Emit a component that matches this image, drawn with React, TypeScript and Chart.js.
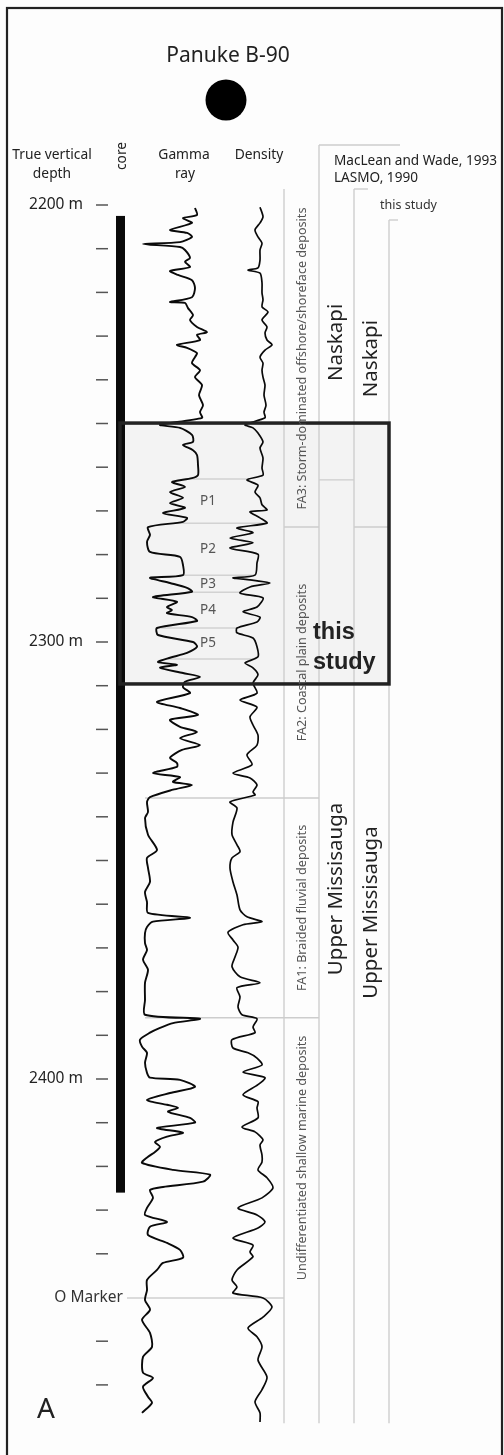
import React, { useEffect, useRef } from "react";
import { Chart, registerables } from "chart.js";

Chart.register(...registerables);

const CANVAS_W = 504;
const CANVAS_H = 1455;

// ---------------- DATA ----------------
const wellName = "Panuke B-90";

const depthTicks = [
  2200, 2210, 2220, 2230, 2240, 2250, 2260, 2270, 2280, 2290, 2300, 2310, 2320, 2330,
  2340, 2350, 2360, 2370, 2380, 2390, 2400, 2410, 2420, 2430, 2440, 2460, 2470,
];
const depthLabelDepths = [2200, 2300, 2400];
const depthLabels = ["2200 m", "2300 m", "2400 m"];

const oMarkerDepth = 2450.1;
const oMarkerLabel = "O Marker";
const coreTops = [2202.5];
const coreBases = [2426.0];
const studyTop = 2249.9;
const studyBase = 2309.6;
const logBaseDepth = 2478.8;

// facies associations
const faciesLabels = [
  "FA3: Storm-dominated offshore/shoreface deposits",
  "FA2: Coastal plain deposits",
  "FA1: Braided fluvial deposits",
  "Undifferentiated shallow marine deposits",
];
const faciesTops = [2196.6, 2273.7, 2335.7, 2386.0];
const faciesBases = [2273.7, 2335.7, 2386.0, 2450.1];

// formations (MacLean and Wade, 1993; LASMO, 1990)
const macleanLabels = ["Naskapi", "Upper Missisauga"];
const macleanTops = [2200.0, 2262.9];
const macleanBases = [2262.9, 2450.1];

// formations (this study)
const studyLabels = ["Naskapi", "Upper Missisauga"];
const studyTops = [2196.6, 2273.7];
const studyBases = [2273.7, 2450.1];

// parasequences
const parasequenceLabels = ["P1", "P2", "P3", "P4", "P5"];
const parasequenceTops = [2262.7, 2272.8, 2284.7, 2288.6, 2296.8];
const parasequenceBases = [2272.8, 2284.7, 2288.6, 2296.8, 2303.9];

// gamma ray log: [depth m, API]
const gammaLog: number[][] = [
  [2200.7, 75], [2202.3, 77], [2203.0, 63], [2204.1, 72], [2205.7, 50], [2206.4, 67],
  [2207.3, 72], [2208.5, 60], [2208.9, 23], [2209.6, 60], [2210.3, 65], [2212.1, 70],
  [2213.0, 65], [2214.2, 70], [2215.1, 50], [2216.0, 58], [2217.2, 72], [2219.0, 75],
  [2221.1, 72], [2222.2, 50], [2222.4, 65], [2223.6, 68], [2225.2, 73], [2226.3, 70],
  [2227.9, 77], [2229.1, 87], [2229.7, 77], [2230.9, 80], [2232.0, 57], [2232.7, 67],
  [2233.9, 77], [2234.8, 75], [2236.2, 72], [2237.8, 80], [2239.4, 75], [2241.2, 82],
  [2243.5, 79], [2245.8, 83], [2247.4, 80], [2248.7, 82], [2250.3, 40], [2251.0, 60],
  [2252.6, 72], [2254.2, 73], [2254.9, 63], [2256.1, 73], [2257.2, 77], [2259.5, 78],
  [2261.8, 78], [2262.5, 72], [2263.4, 52], [2264.5, 65], [2265.7, 50], [2267.0, 63],
  [2268.2, 50], [2269.3, 65], [2270.5, 43], [2271.6, 67], [2272.5, 63], [2273.7, 28],
  [2275.5, 30], [2277.1, 27], [2279.4, 30], [2280.5, 60], [2282.4, 63], [2284.7, 63],
  [2285.3, 30], [2286.5, 50], [2287.6, 67], [2288.5, 72], [2289.7, 33], [2290.8, 57],
  [2292.0, 47], [2292.7, 52], [2293.4, 47], [2294.3, 72], [2295.2, 77], [2296.8, 37],
  [2298.4, 38], [2300.0, 73], [2301.1, 77], [2302.5, 67], [2303.6, 50], [2304.6, 38],
  [2305.2, 57], [2305.9, 40], [2307.1, 63], [2308.0, 80], [2309.1, 65], [2310.3, 63],
  [2311.7, 70], [2313.7, 37], [2315.1, 60], [2316.7, 78], [2317.8, 50], [2319.4, 60],
  [2320.6, 77], [2322.0, 60], [2323.6, 80], [2324.7, 62], [2326.5, 50], [2327.7, 57],
  [2328.6, 57], [2330.0, 33], [2330.9, 60], [2332.0, 53], [2332.7, 72], [2333.8, 53],
  [2335.5, 30], [2336.6, 27], [2338.9, 28], [2340.3, 25], [2344.1, 28], [2347.6, 37],
  [2349.4, 27], [2351.7, 28], [2354.9, 30], [2357.2, 25], [2359.5, 27], [2362.0, 28],
  [2363.1, 70], [2364.0, 33], [2365.2, 27], [2366.6, 25], [2368.9, 25], [2370.5, 27],
  [2372.7, 23], [2375.0, 28], [2378.0, 25], [2381.9, 25], [2385.3, 25], [2386.2, 80],
  [2387.2, 53], [2388.3, 40], [2389.4, 30], [2391.0, 20], [2392.6, 22], [2394.0, 27],
  [2396.3, 25], [2398.6, 27], [2399.7, 30], [2400.2, 60], [2401.8, 75], [2403.2, 50],
  [2404.8, 27], [2405.9, 47], [2406.6, 58], [2407.5, 48], [2408.9, 70], [2410.0, 75],
  [2411.2, 37], [2412.3, 63], [2413.2, 47], [2414.4, 35], [2415.5, 40], [2416.7, 35],
  [2417.8, 28], [2419.2, 22], [2420.8, 53], [2421.9, 90], [2423.5, 83], [2424.7, 43],
  [2425.4, 30], [2427.2, 33], [2429.5, 27], [2431.1, 25], [2432.7, 47], [2433.8, 30],
  [2435.7, 28], [2437.5, 47], [2439.1, 60], [2440.9, 63], [2442.1, 43], [2443.7, 37],
  [2446.0, 27], [2448.3, 27], [2450.6, 25], [2452.8, 30], [2455.1, 22], [2458.1, 30],
  [2461.3, 32], [2463.6, 23], [2467.2, 23], [2468.4, 33], [2470.4, 23], [2472.7, 28],
  [2474.1, 32], [2476.4, 22],
];

// bulk density log: [depth m, g/cc]
const densityLog: number[][] = [
  [2200.5, 2.35], [2202.7, 2.38], [2204.1, 2.35], [2205.7, 2.30], [2207.3, 2.33], [2208.7, 2.37],
  [2210.3, 2.35], [2212.6, 2.35], [2214.4, 2.33], [2214.9, 2.23], [2215.6, 2.35], [2217.8, 2.37],
  [2220.1, 2.37], [2221.7, 2.38], [2223.3, 2.37], [2224.5, 2.43], [2226.3, 2.37], [2227.9, 2.42],
  [2229.3, 2.40], [2230.9, 2.42], [2232.0, 2.47], [2233.2, 2.40], [2234.8, 2.35], [2236.2, 2.38],
  [2237.8, 2.37], [2239.4, 2.38], [2241.2, 2.40], [2243.5, 2.39], [2245.8, 2.41], [2247.4, 2.39],
  [2248.7, 2.40], [2250.3, 2.20], [2251.0, 2.28], [2252.2, 2.33], [2254.2, 2.38], [2255.6, 2.35],
  [2257.9, 2.38], [2260.2, 2.37], [2261.8, 2.38], [2262.9, 2.22], [2264.1, 2.33], [2265.7, 2.30],
  [2267.0, 2.35], [2268.6, 2.37], [2269.8, 2.42], [2270.2, 2.25], [2271.6, 2.35], [2272.8, 2.42],
  [2273.9, 2.12], [2275.0, 2.28], [2276.2, 2.05], [2277.3, 2.28], [2278.5, 2.05], [2279.9, 2.33],
  [2281.9, 2.32], [2284.7, 2.30], [2285.3, 2.08], [2285.8, 2.25], [2286.5, 2.45], [2287.4, 2.25],
  [2288.8, 2.15], [2289.9, 2.38], [2292.0, 2.32], [2293.1, 2.18], [2294.3, 2.35], [2295.4, 2.32],
  [2296.8, 2.12], [2297.9, 2.12], [2299.1, 2.28], [2301.1, 2.32], [2303.4, 2.33], [2304.8, 2.20],
  [2305.9, 2.28], [2307.5, 2.33], [2309.4, 2.28], [2311.7, 2.32], [2313.3, 2.15], [2314.9, 2.32],
  [2317.1, 2.25], [2319.0, 2.28], [2321.3, 2.33], [2323.6, 2.32], [2325.8, 2.22], [2328.1, 2.27],
  [2330.0, 2.08], [2331.1, 2.25], [2332.7, 2.32], [2334.3, 2.28], [2335.0, 2.30], [2336.6, 2.05],
  [2338.0, 2.12], [2341.2, 2.08], [2344.1, 2.07], [2346.4, 2.12], [2348.0, 2.15], [2349.4, 2.07],
  [2351.7, 2.05], [2354.9, 2.08], [2357.9, 2.12], [2361.3, 2.15], [2362.9, 2.22], [2364.0, 2.37],
  [2364.7, 2.18], [2366.4, 2.03], [2368.2, 2.08], [2369.8, 2.13], [2372.1, 2.10], [2374.3, 2.07],
  [2376.6, 2.15], [2378.0, 2.35], [2379.1, 2.12], [2381.2, 2.15], [2383.5, 2.13], [2385.3, 2.17],
  [2386.2, 2.32], [2388.1, 2.28], [2389.4, 2.30], [2391.0, 2.07], [2392.9, 2.08], [2394.0, 2.23],
  [2395.2, 2.32], [2396.8, 2.37], [2398.4, 2.18], [2399.7, 2.40], [2401.3, 2.33], [2403.6, 2.18],
  [2405.2, 2.33], [2406.6, 2.32], [2408.9, 2.33], [2411.0, 2.17], [2412.1, 2.30], [2413.9, 2.38],
  [2415.1, 2.35], [2417.4, 2.37], [2419.0, 2.37], [2420.8, 2.33], [2422.6, 2.42], [2424.9, 2.48],
  [2427.2, 2.37], [2429.5, 2.13], [2431.1, 2.32], [2432.7, 2.40], [2434.1, 2.33], [2436.4, 2.08],
  [2438.0, 2.28], [2439.6, 2.25], [2440.7, 2.28], [2443.7, 2.12], [2446.0, 2.07], [2447.6, 2.12],
  [2449.0, 2.08], [2450.1, 2.38], [2452.2, 2.47], [2454.5, 2.38], [2457.0, 2.23], [2459.0, 2.32],
  [2461.3, 2.37], [2464.3, 2.33], [2468.2, 2.42], [2471.1, 2.37], [2473.9, 2.30], [2476.4, 2.35],
  [2478.5, 2.35],
];

// ---------------- LAYOUT / STYLE ----------------
const LAYOUT = {
  pxPerMetre: 4.37,
  refDepth: 2200,
  refPx: 205,
  gammaTrack: { left: 140, right: 215, min: 20, max: 95 },
  densityTrack: { left: 225, right: 280, min: 2.0, max: 2.55 },
  tickX0: 96,
  tickX1: 108,
  tickLabelRight: 83,
  coreX0: 116,
  coreX1: 125,
  colX: [284, 319, 354, 389],
  colTop: [189, 145, 189, 220],
  headerLines: [
    [319, 145, 400],
    [354, 189, 368],
    [389, 220, 398],
  ],
  faciesLineLeft: [284, 145, 145],
  oMarkerX0: 127,
  oMarkerLabelRight: 123,
  boxX0: 120,
  boxX1: 389,
  font: '"Noto Sans", "Open Sans", sans-serif',
};

function trackScale(t: { left: number; right: number; min: number; max: number }) {
  const k = (t.max - t.min) / (t.right - t.left);
  return { min: t.min - t.left * k, max: t.min + (CANVAS_W - t.left) * k };
}

function interp(log: number[][], d: number) {
  if (d <= log[0][0]) return log[0][1];
  for (let i = 1; i < log.length; i++) {
    if (log[i][0] >= d) {
      const [d0, v0] = log[i - 1];
      const [d1, v1] = log[i];
      return v0 + ((v1 - v0) * (d - d0)) / (d1 - d0);
    }
  }
  return log[log.length - 1][1];
}

const figurePlugin = {
  id: "figure",
  beforeDraw(chart: any) {
    const ctx = chart.ctx;
    const y = (d: number) => chart.scales.y.getPixelForValue(d);
    ctx.save();
    ctx.fillStyle = "#fdfdfd";
    ctx.fillRect(0, 0, CANVAS_W, CANVAS_H);
    ctx.fillStyle = "#f3f3f3";
    ctx.fillRect(LAYOUT.boxX0, y(studyTop), LAYOUT.boxX1 - LAYOUT.boxX0, y(studyBase) - y(studyTop));
    ctx.restore();
  },
  beforeDatasetsDraw(chart: any) {
    const ctx = chart.ctx;
    const y = (d: number) => chart.scales.y.getPixelForValue(d);
    const xG = (v: number) => chart.scales.xG.getPixelForValue(v);
    const xD = (v: number) => chart.scales.xD.getPixelForValue(v);
    const line = (x0: number, y0: number, x1: number, y1: number) => {
      ctx.beginPath();
      ctx.moveTo(x0, y0);
      ctx.lineTo(x1, y1);
      ctx.stroke();
    };
    ctx.save();
    // column lines
    ctx.strokeStyle = "#cdcdcd";
    ctx.lineWidth = 1.4;
    LAYOUT.colX.forEach((x, i) => line(x, LAYOUT.colTop[i], x, y(logBaseDepth)));
    LAYOUT.headerLines.forEach(([x0, yy, x1]) => line(x0, yy, x1, yy));
    // facies boundaries
    for (let i = 0; i < faciesBases.length - 1; i++) {
      const yy = y(faciesBases[i]);
      line(LAYOUT.faciesLineLeft[i], yy, LAYOUT.colX[1], yy);
    }
    for (let i = 0; i < macleanBases.length - 1; i++) {
      const yy = y(macleanBases[i]);
      line(LAYOUT.colX[1], yy, LAYOUT.colX[2], yy);
    }
    for (let i = 0; i < studyBases.length - 1; i++) {
      const yy = y(studyBases[i]);
      line(LAYOUT.colX[2], yy, LAYOUT.colX[3], yy);
    }
    // parasequence boundaries
    const psBounds = [parasequenceTops[0], ...parasequenceBases];
    ctx.strokeStyle = "#d2d2d2";
    ctx.lineWidth = 1.5;
    psBounds.forEach((d) => {
      const yy = y(d);
      line(xG(interp(gammaLog, d)), yy, xD(interp(densityLog, d)), yy);
    });
    // O marker
    ctx.strokeStyle = "#cfcfcf";
    line(LAYOUT.oMarkerX0, y(oMarkerDepth), LAYOUT.colX[0], y(oMarkerDepth));
    // depth ticks
    ctx.strokeStyle = "#555";
    ctx.lineWidth = 1.5;
    depthTicks.forEach((d) => line(LAYOUT.tickX0, y(d), LAYOUT.tickX1, y(d)));
    // core
    ctx.fillStyle = "#0a0a0a";
    coreTops.forEach((t, i) => {
      ctx.fillRect(LAYOUT.coreX0, y(t), LAYOUT.coreX1 - LAYOUT.coreX0, y(coreBases[i]) - y(t));
    });
    ctx.restore();
  },
  afterDatasetsDraw(chart: any) {
    const ctx = chart.ctx;
    const y = (d: number) => chart.scales.y.getPixelForValue(d);
    const F = LAYOUT.font;
    const text = (s: string, x: number, yy: number, size: number, color: string, align: CanvasTextAlign = "left", weight = "normal", family = F) => {
      ctx.font = `${weight} ${size}px ${family}`;
      ctx.fillStyle = color;
      ctx.textAlign = align;
      ctx.textBaseline = "middle";
      ctx.fillText(s, x, yy);
    };
    const vtext = (s: string, cx: number, cy: number, size: number, color: string) => {
      ctx.save();
      ctx.translate(cx, cy);
      ctx.rotate(-Math.PI / 2);
      text(s, 0, 0, size, color, "center");
      ctx.restore();
    };
    ctx.save();
    // study box
    ctx.strokeStyle = "#222";
    ctx.lineWidth = 3.5;
    ctx.strokeRect(LAYOUT.boxX0, y(studyTop), LAYOUT.boxX1 - LAYOUT.boxX0, y(studyBase) - y(studyTop));
    text("this", 313, y(studyTop) + 209, 23.5, "#222", "left", "bold", '"Liberation Sans", Arial, sans-serif');
    text("study", 313, y(studyTop) + 239, 23.5, "#222", "left", "bold", '"Liberation Sans", Arial, sans-serif');

    // outer border
    ctx.lineWidth = 2.2;
    ctx.strokeStyle = "#222";
    ctx.strokeRect(7, 8, 495, CANVAS_H + 10);

    // title + well symbol
    text(wellName, 228, 56, 21, "#222", "center");
    ctx.beginPath();
    ctx.arc(226, 100, 20.5, 0, Math.PI * 2);
    ctx.fillStyle = "#000";
    ctx.fill();

    // headers
    text("True vertical", 52, 155, 13.8, "#222", "center");
    text("depth", 52, 174, 13.8, "#222", "center");
    vtext("core", 122, 156, 13.8, "#222");
    text("Gamma", 184, 155, 13.8, "#222", "center");
    text("ray", 185, 174, 13.8, "#222", "center");
    text("Density", 259, 155, 13.8, "#222", "center");
    text("MacLean and Wade, 1993", 334, 161, 13.6, "#222", "left");
    text("LASMO, 1990", 334, 178, 13.6, "#222", "left");
    text("this study", 380, 205, 12.5, "#333", "left");

    // depth labels
    depthLabelDepths.forEach((d, i) => text(depthLabels[i], LAYOUT.tickLabelRight, y(d), 15.5, "#222", "right"));
    text(oMarkerLabel, LAYOUT.oMarkerLabelRight, y(oMarkerDepth), 15.5, "#333", "right");

    // facies labels
    const faCx = (LAYOUT.colX[0] + LAYOUT.colX[1]) / 2;
    faciesLabels.forEach((s, i) => vtext(s, faCx + 1, (y(faciesTops[i]) + y(faciesBases[i])) / 2, 12.6, "#555"));
    const mcCx = (LAYOUT.colX[1] + LAYOUT.colX[2]) / 2;
    macleanLabels.forEach((s, i) => vtext(s, mcCx, (y(macleanTops[i]) + y(macleanBases[i])) / 2, 20.5, "#222"));
    const stCx = (LAYOUT.colX[2] + LAYOUT.colX[3]) / 2;
    studyLabels.forEach((s, i) => vtext(s, stCx, (y(studyTops[i]) + y(studyBases[i])) / 2, 20.5, "#222"));

    // parasequence labels
    parasequenceLabels.forEach((s, i) =>
      text(s, 200, (y(parasequenceTops[i]) + y(parasequenceBases[i])) / 2, 13.5, "#555", "left")
    );

    // panel letter
    text("A", 37, 1410, 28, "#222", "left");
    ctx.restore();
  },
};

export default function App() {
  const ref = useRef<HTMLCanvasElement | null>(null);
  useEffect(() => {
    document.body.style.margin = "0";
    const canvas = ref.current!;
    const yMin = LAYOUT.refDepth - LAYOUT.refPx / LAYOUT.pxPerMetre;
    const yMax = yMin + CANVAS_H / LAYOUT.pxPerMetre;
    const g = trackScale(LAYOUT.gammaTrack);
    const dn = trackScale(LAYOUT.densityTrack);
    const chart = new Chart(canvas, {
      type: "scatter",
      data: {
        datasets: [
          {
            label: "Gamma ray",
            data: gammaLog.map(([d, v]) => ({ x: v, y: d })),
            xAxisID: "xG",
            yAxisID: "y",
            showLine: true,
            borderColor: "#0a0a0a",
            borderWidth: 1.9,
            pointRadius: 0,
            tension: 0.25,
          },
          {
            label: "Density",
            data: densityLog.map(([d, v]) => ({ x: v, y: d })),
            xAxisID: "xD",
            yAxisID: "y",
            showLine: true,
            borderColor: "#0a0a0a",
            borderWidth: 1.7,
            pointRadius: 0,
            tension: 0.25,
          },
        ],
      },
      options: {
        responsive: false,
        animation: false,
        layout: { padding: 0 },
        plugins: { legend: { display: false }, tooltip: { enabled: false }, title: { display: false } },
        scales: {
          x: { display: false },
          xG: { type: "linear", display: false, min: g.min, max: g.max },
          xD: { type: "linear", display: false, min: dn.min, max: dn.max },
          y: { type: "linear", display: false, reverse: true, min: yMin, max: yMax },
        },
      },
      plugins: [figurePlugin],
    });
    return () => chart.destroy();
  }, []);
  return <canvas ref={ref} width={CANVAS_W} height={CANVAS_H} style={{ display: "block" }} />;
}
